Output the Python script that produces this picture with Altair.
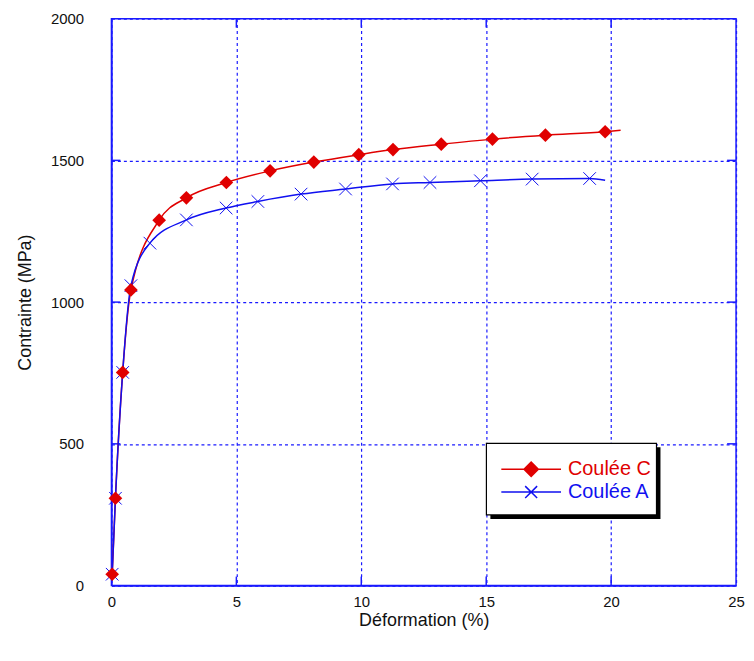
import altair as alt
import pandas as pd

# ---- data ----
c_x = [0.03, 0.16, 0.45, 0.78, 1.91, 3.0, 4.6, 6.35, 8.1, 9.9, 11.27, 13.2, 15.25, 17.37, 19.76]
c_y = [40, 308, 752, 1043, 1289, 1368, 1422, 1463, 1494, 1520, 1538, 1557, 1575, 1589, 1601]
c_end = (20.38, 1606)

a_x = [0.03, 0.16, 0.45, 0.78, 1.54, 3.0, 4.59, 5.86, 7.59, 9.37, 11.25, 12.75, 14.77, 16.84, 19.14]
a_y = [40, 308, 752, 1058, 1208, 1290, 1332, 1355, 1381, 1399, 1417, 1422, 1428, 1434, 1436]
a_end = (19.76, 1430)

series = ["Coulée C", "Coulée A"]
colors = ["#e00000", "#1010f0"]
x_ticks = [0, 5, 10, 15, 20, 25]
y_ticks = [0, 500, 1000, 1500, 2000]

AXIS_BLUE = "#1a1aff"
W, H = 628, 570
XMAX, YMAX = 25, 2000
FONT = "Liberation Sans"

pts = pd.DataFrame(
    [{"serie": series[0], "x": x, "y": y} for x, y in zip(c_x, c_y)]
    + [{"serie": series[1], "x": x, "y": y} for x, y in zip(a_x, a_y)]
)
lines = pd.DataFrame(
    [{"serie": series[0], "x": x, "y": y} for x, y in zip(c_x + [c_end[0]], c_y + [c_end[1]])]
    + [{"serie": series[1], "x": x, "y": y} for x, y in zip(a_x + [a_end[0]], a_y + [a_end[1]])]
)

# inward tick marks (9 px long)
tl = 9
dy = YMAX * tl / H
dx = XMAX * tl / W
ticks = pd.DataFrame(
    [{"x": t, "x2": t, "y": 0, "y2": dy} for t in x_ticks[1:-1]]
    + [{"x": t, "x2": t, "y": YMAX - dy, "y2": YMAX} for t in x_ticks[1:-1]]
    + [{"x": 0, "x2": dx, "y": t, "y2": t} for t in y_ticks[1:-1]]
    + [{"x": XMAX - dx, "x2": XMAX, "y": t, "y2": t} for t in y_ticks[1:-1]]
)

xs = alt.Scale(domain=[0, XMAX], nice=False, zero=False)
ys = alt.Scale(domain=[0, YMAX], nice=False)

x_axis = alt.Axis(values=x_ticks, title="Déformation (%)", grid=True, labelFlush=False,
                  labelPadding=9, titlePadding=2)
y_axis = alt.Axis(values=y_ticks, title="Contrainte (MPa)", grid=True, labelFlush=False,
                  labelPadding=28, titlePadding=16, format="d")

base_x = alt.X("x:Q", scale=xs, axis=x_axis)
base_y = alt.Y("y:Q", scale=ys, axis=y_axis)

# legend frame (white box with black border and drop shadow)
frame = pd.DataFrame({"k": [0]})
shadow_layer = alt.Chart(frame).mark_rect(color="black").encode(
    x=alt.value(381), x2=alt.value(552), y=alt.value(431), y2=alt.value(503)
)
box_layer = alt.Chart(frame).mark_rect(fill="white", stroke="black", strokeWidth=1.2).encode(
    x=alt.value(377), x2=alt.value(548), y=alt.value(427), y2=alt.value(499)
)

tick_layer = alt.Chart(ticks).mark_rule(color=AXIS_BLUE, strokeWidth=1.5).encode(
    x=base_x, x2="x2", y=base_y, y2="y2"
)

line_layer = alt.Chart(lines).mark_line(interpolate="monotone", strokeWidth=1.5).encode(
    x=base_x, y=base_y,
    color=alt.Color("serie:N", scale=alt.Scale(domain=series, range=colors), legend=None),
    detail="serie:N",
)

c_pts = alt.Chart(pts).transform_filter(alt.datum.serie == series[0]).mark_point(
    shape="diamond", filled=True, size=190, color=colors[0], opacity=1
).encode(x=base_x, y=base_y)

X_PATH = "M-1,-1L1,1M-1,1L1,-1"
a_pts = alt.Chart(pts).transform_filter(alt.datum.serie == series[1]).mark_point(
    shape=X_PATH, filled=False, size=160, color=colors[1], strokeWidth=1, opacity=1
).encode(x=base_x, y=base_y)

LEG_PATHS = ["M-1,0H1M0,-0.24L0.24,0L0,0.24L-0.24,0Z",
             "M-1,0H1M-0.2,-0.2L0.2,0.2M-0.2,0.2L0.2,-0.2"]
LEG_Y = [422, 445]


def legend_layer(i):
    lg = alt.Legend(
        title=None, orient="none", legendX=391, legendY=LEG_Y[i], padding=0,
        symbolSize=3600, symbolStrokeWidth=1.5, symbolOpacity=1,
        labelFontSize=20, labelFont=FONT, labelColor=colors[i], labelOffset=6,
    )
    return alt.Chart(pts).transform_filter(alt.datum.serie == series[i]).mark_point(
        size=0, strokeWidth=0, opacity=0
    ).encode(
        x=base_x, y=base_y,
        fill=alt.Fill("serie:N", scale=alt.Scale(domain=[series[i]], range=[colors[i]]), legend=lg),
        stroke=alt.Stroke("serie:N", scale=alt.Scale(domain=[series[i]], range=[colors[i]]), legend=lg),
        shape=alt.Shape("serie:N", scale=alt.Scale(domain=[series[i]], range=[LEG_PATHS[i]]), legend=lg),
    )


chart = alt.layer(
    tick_layer, line_layer, a_pts, c_pts, shadow_layer, box_layer,
    legend_layer(0), legend_layer(1)
).resolve_scale(
    fill="independent", stroke="independent", shape="independent"
).properties(
    width=W, height=H,
    background="white",
    autosize=alt.AutoSizeParams(type="none"),
    padding={"left": 104, "top": 9, "right": 10, "bottom": 50},
).configure_view(
    stroke=AXIS_BLUE, strokeWidth=1.5
).configure_axis(
    domainColor=AXIS_BLUE, domainWidth=1.5, ticks=False,
    gridColor=AXIS_BLUE, gridDash=[3, 3], gridWidth=1.2, gridOpacity=1,
    labelFont=FONT, labelFontSize=15, labelColor="#111",
    titleFont=FONT, titleFontSize=18, titleFontWeight="normal", titleColor="#111",
)

chart.save("out.html", embed_options={"renderer": "svg", "actions": False})
